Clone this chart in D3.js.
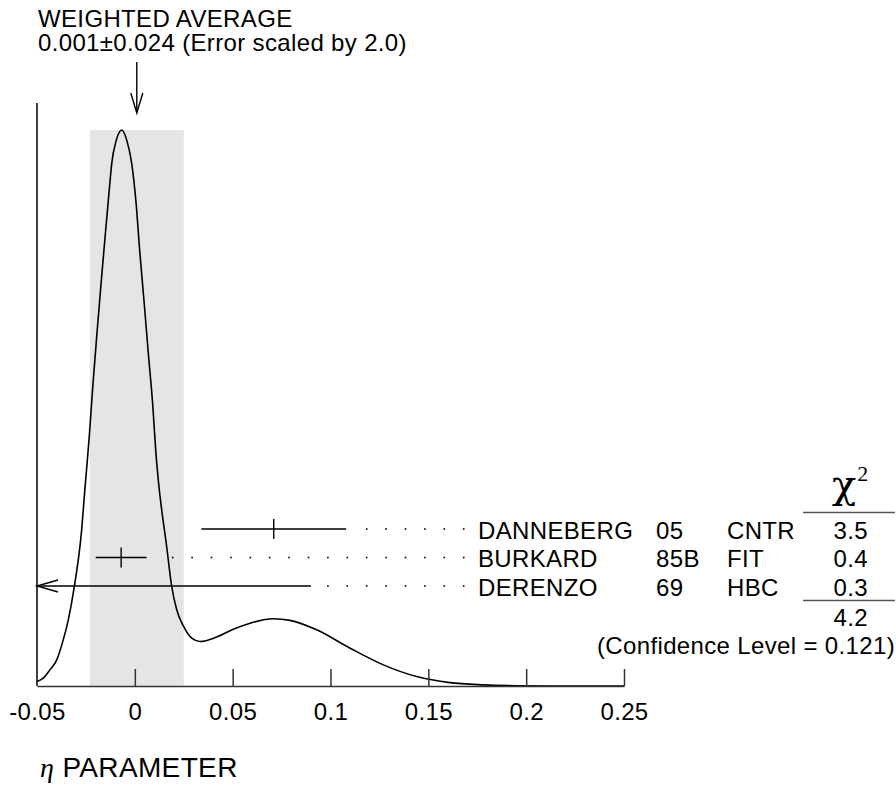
<!DOCTYPE html>
<meta charset="utf-8">
<style>
body { margin: 0; background: #fff; }
text { font-family: "Liberation Sans", Arial, Helvetica, sans-serif; fill: #000; letter-spacing: 0.35px; }
.curve { fill: none; stroke: #000; stroke-width: 1.6px; }
.bar { stroke: #000; stroke-width: 1.4px; }
.axis path, .axis line { stroke: #333; stroke-width: 1.5px; }
</style>
<body>
<script src="https://cdn.jsdelivr.net/npm/d3@7"></script>
<script>

// measurements
var names  = ["DANNEBERG", "BURKARD", "DERENZO"];
var years  = ["05", "85B", "69"];
var techs  = ["CNTR", "FIT", "HBC"];
var values = [0.071, -0.007, -0.12];
var errors = [0.037, 0.013, 0.21];
var chi2   = ["3.5", "0.4", "0.3"];
var chi2Total = "4.2";
var confLevel = "0.121";

// weighted average
var avgValue = 0.001, avgError = 0.024, errScale = "2.0";

var xTicks = [-0.05, 0, 0.05, 0.1, 0.15, 0.2, 0.25];

// ideogram curve (height relative to the peak)
var curveX = [-0.05, -0.0468, -0.0434, -0.0399, -0.0366, -0.034, -0.0311, -0.0272, -0.0255, -0.0233,
              -0.0215, -0.0195, -0.0174, -0.0152, -0.013, -0.0118, -0.0096, -0.0067, -0.004, -0.0016,
              0.0006, 0.0026, 0.0048, 0.0069, 0.0091, 0.0108, 0.012, 0.0163, 0.0188, 0.0214,
              0.0248, 0.0291, 0.0333, 0.0418, 0.0503, 0.0589, 0.0708, 0.0793, 0.0929, 0.11,
              0.127, 0.144, 0.161, 0.178, 0.195, 0.22, 0.25];
var curveY = [0.008, 0.014, 0.029, 0.047, 0.083, 0.119, 0.175, 0.28, 0.355, 0.448,
              0.538, 0.628, 0.718, 0.808, 0.895, 0.94, 0.98, 1.0, 0.98, 0.94,
              0.87, 0.778, 0.688, 0.598, 0.508, 0.418, 0.37, 0.25, 0.18, 0.137,
              0.108, 0.086, 0.08, 0.088, 0.102, 0.113, 0.121, 0.118, 0.101, 0.068,
              0.038, 0.017, 0.006, 0.002, 0.0005, 0, 0];

var width = 896, height = 786;
var x0 = 37, x1 = 624, yBase = 686, yTop = 130;

var x = d3.scaleLinear().domain([-0.05, 0.25]).range([x0, x1]);
var y = d3.scaleLinear().domain([0, 1]).range([yBase, yTop]);

var svg = d3.select("body").append("svg")
    .attr("width", width)
    .attr("height", height);

// shaded band of the weighted average
svg.append("rect")
    .attr("x", x(avgValue - avgError))
    .attr("y", y(1))
    .attr("width", x(avgValue + avgError) - x(avgValue - avgError))
    .attr("height", y(0) - y(1))
    .style("fill", "#e5e5e5");

// curve
var pts = curveX.map(function(d, i) { return [d, curveY[i]]; });
var line = d3.line()
    .x(function(d) { return x(d[0]); })
    .y(function(d) { return y(d[1]); })
    .curve(d3.curveMonotoneX);
svg.append("path")
    .datum(pts)
    .attr("class", "curve")
    .attr("d", line);

// vertical axis line
svg.append("line")
    .attr("x1", x0).attr("x2", x0)
    .attr("y1", 103).attr("y2", yBase)
    .style("stroke", "#000").style("stroke-width", 1.5);

// x axis
var xAxis = svg.append("g")
    .attr("class", "axis")
    .attr("transform", "translate(0," + yBase + ")")
    .call(d3.axisBottom(x)
        .tickValues(xTicks)
        .tickSize(-17)
        .tickSizeOuter(0)
        .tickPadding(17)
        .tickFormat(function(d) { return String(+d.toFixed(2)); }));
xAxis.selectAll("text")
    .style("font-family", "'Liberation Sans', Arial, sans-serif")
    .style("font-size", "24px")
    .style("fill", "#000");
xAxis.selectAll(".tick").filter(function(d) { return d === -0.05; }).select("line").remove();

// title and arrow
svg.append("text").attr("x", 38).attr("y", 26.5).style("font-size", "24px").text("WEIGHTED AVERAGE");
svg.append("text").attr("x", 38).attr("y", 51).style("font-size", "24px")
    .text(avgValue.toFixed(3) + "\u00b1" + avgError.toFixed(3) + " (Error scaled by " + errScale + ")");

var ax = x(avgValue);
svg.append("line").attr("class", "bar")
    .attr("x1", ax).attr("x2", ax).attr("y1", 62).attr("y2", 113);
svg.append("path").attr("class", "bar").style("fill", "none")
    .attr("d", "M" + (ax - 6) + ",93L" + ax + ",113L" + (ax + 6) + ",93");

// measurement rows
var rowY0 = 529, rowStep = 28.5;
var dotStart = 172.7, dotStep = 19.4, dotEnd = 466;

names.forEach(function(name, i) {
  var ry = rowY0 + i * rowStep;
  var lo = values[i] - errors[i], hi = values[i] + errors[i];
  var xl = x(Math.max(lo, x.domain()[0])), xr = x(Math.min(hi, x.domain()[1]));

  svg.append("line").attr("class", "bar")
      .attr("x1", xl).attr("x2", xr).attr("y1", ry).attr("y2", ry);

  if (values[i] >= x.domain()[0]) {
    svg.append("line").attr("class", "bar")
        .attr("x1", x(values[i])).attr("x2", x(values[i]))
        .attr("y1", ry - 10).attr("y2", ry + 10);
  }
  if (lo < x.domain()[0]) {
    svg.append("path").attr("class", "bar").style("fill", "none")
        .attr("d", "M" + (xl + 21) + "," + (ry - 6) + "L" + xl + "," + ry + "L" + (xl + 21) + "," + (ry + 6));
  }

  // dotted leader
  for (var px = dotStart; px <= dotEnd; px += dotStep) {
    if (px < xr + 10) continue;
    svg.append("rect")
        .attr("x", px - 0.8).attr("y", ry - 0.8)
        .attr("width", 1.6).attr("height", 1.6)
        .style("fill", "#000");
  }

  var ty = ry + 9.5;
  svg.append("text").attr("x", 478).attr("y", ty).style("font-size", "24px").text(name);
  svg.append("text").attr("x", 656).attr("y", ty).style("font-size", "24px").text(years[i]);
  svg.append("text").attr("x", 727).attr("y", ty).style("font-size", "24px").text(techs[i]);
  svg.append("text").attr("x", 868).attr("y", ty).attr("text-anchor", "end")
      .style("font-size", "24px").text(chi2[i]);
});

// chi-square column
var chi = svg.append("text").attr("x", 832).attr("y", 498)
    .style("font-family", "'DejaVu Serif', 'Liberation Serif', serif")
    .style("letter-spacing", "0px")
    .style("font-size", "40px");
chi.append("tspan").text("\u03c7");
chi.append("tspan").attr("dx", 1).attr("dy", -17)
    .style("font-family", "'Liberation Serif', serif")
    .style("font-size", "22px").text("2");

svg.append("line").attr("x1", 803).attr("x2", 895).attr("y1", 512.5).attr("y2", 512.5)
    .style("stroke", "#555").style("stroke-width", 1.5);
svg.append("line").attr("x1", 803).attr("x2", 895).attr("y1", 600.5).attr("y2", 600.5)
    .style("stroke", "#555").style("stroke-width", 1.5);

svg.append("text").attr("x", 868).attr("y", 625.5).attr("text-anchor", "end")
    .style("font-size", "24px").text(chi2Total);
svg.append("text").attr("x", 895).attr("y", 654).attr("text-anchor", "end")
    .style("font-size", "24px").text("(Confidence Level = " + confLevel + ")");

// axis title
var lab = svg.append("text").attr("x", 40).attr("y", 777).style("font-size", "28px");
lab.append("tspan")
    .style("font-family", "'Liberation Serif', 'Times New Roman', serif")
    .style("font-style", "italic")
    .text("\u03b7");
lab.append("tspan").text(" PARAMETER");

</script>
</body>
